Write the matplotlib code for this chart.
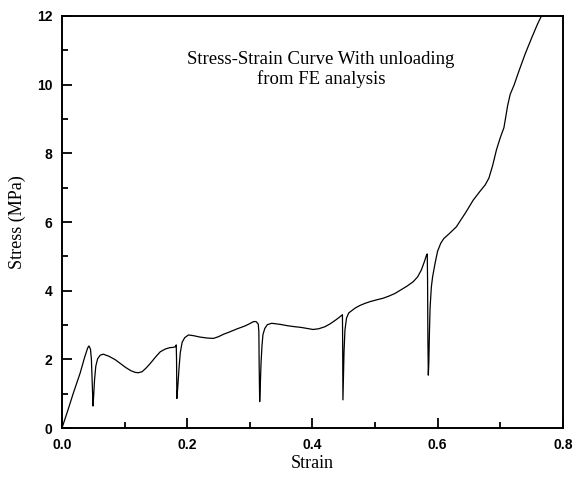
import matplotlib.pyplot as plt
from matplotlib.ticker import MultipleLocator

# strain / stress pairs, including the unloading dips
strain = [0.000, 0.010, 0.018, 0.029, 0.036, 0.041, 0.043, 0.0455, 0.047, 0.048, 0.049, 0.0495,
          0.0505, 0.052, 0.054, 0.057, 0.061, 0.066, 0.075, 0.085, 0.093, 0.102, 0.110, 0.117,
          0.122, 0.128, 0.134, 0.141, 0.150, 0.157, 0.165, 0.172, 0.178, 0.1815, 0.1825, 0.183,
          0.1835, 0.185, 0.187, 0.189, 0.192, 0.196, 0.202, 0.210, 0.220, 0.232, 0.242, 0.250,
          0.258, 0.268, 0.280, 0.292, 0.300, 0.306, 0.310, 0.3135, 0.3145, 0.315, 0.3158,
          0.3165, 0.318, 0.3195, 0.321, 0.324, 0.328, 0.335, 0.348, 0.360, 0.372, 0.382, 0.392,
          0.401, 0.410, 0.420, 0.428, 0.436, 0.442, 0.446, 0.448, 0.4483, 0.4485, 0.4488,
          0.4495, 0.4505, 0.452, 0.4545, 0.458, 0.463, 0.468, 0.476, 0.484, 0.492, 0.502,
          0.513, 0.522, 0.532, 0.541, 0.551, 0.561, 0.568, 0.574, 0.579, 0.582, 0.5835, 0.584,
          0.5845, 0.5852, 0.586, 0.587, 0.588, 0.590, 0.592, 0.596, 0.600, 0.605, 0.610, 0.618,
          0.630, 0.645, 0.657, 0.668, 0.676, 0.682, 0.688, 0.694, 0.700, 0.706, 0.712, 0.716,
          0.722, 0.730, 0.740, 0.750, 0.760, 0.770, 0.780]
stress = [0.00, 0.55, 1.01, 1.60, 2.05, 2.33, 2.39, 2.30, 2.00, 1.50, 0.95, 0.64,
          0.90, 1.40, 1.80, 2.02, 2.12, 2.15, 2.09, 1.99, 1.88, 1.76, 1.67, 1.62,
          1.61, 1.64, 1.74, 1.88, 2.08, 2.22, 2.30, 2.34, 2.35, 2.37, 2.42, 2.00,
          0.86, 1.20, 1.75, 2.20, 2.50, 2.63, 2.71, 2.69, 2.65, 2.62, 2.61, 2.66,
          2.73, 2.80, 2.89, 2.97, 3.04, 3.10, 3.10, 3.03, 2.80, 1.80, 0.77,
          1.10, 1.90, 2.40, 2.72, 2.90, 3.01, 3.05, 3.02, 2.98, 2.95, 2.93, 2.90,
          2.87, 2.89, 2.95, 3.03, 3.13, 3.21, 3.27, 3.30, 2.60, 1.50, 0.82,
          1.40, 2.20, 2.85, 3.20, 3.35, 3.42, 3.49, 3.57, 3.63, 3.68, 3.73,
          3.78, 3.84, 3.92, 4.02, 4.13, 4.26, 4.40, 4.60, 4.85, 5.02, 5.07, 4.30,
          2.60, 1.54, 1.90, 2.80, 3.50, 4.10, 4.40, 4.80, 5.15, 5.38, 5.52, 5.65,
          5.86, 6.28, 6.64, 6.90, 7.08, 7.28, 7.65, 8.10, 8.45, 8.75, 9.40, 9.72,
          9.98, 10.40, 10.90, 11.35, 11.78, 12.15, 12.50]

title_lines = ["Stress-Strain Curve With unloading", "from FE analysis"]

fig = plt.figure(figsize=(5.82, 4.80), dpi=100)
ax = fig.add_axes([0.1065, 0.1083, 0.8605, 0.8584])

ax.plot(strain, stress, color="black", linewidth=0.9)

ax.set_xlim(0, 0.8)
ax.set_ylim(0, 12)
ax.xaxis.set_major_locator(MultipleLocator(0.2))
ax.xaxis.set_minor_locator(MultipleLocator(0.1))
ax.yaxis.set_major_locator(MultipleLocator(2))
ax.yaxis.set_minor_locator(MultipleLocator(1))
ax.xaxis.set_major_formatter(plt.FormatStrFormatter("%.1f"))

ax.tick_params(which="both", direction="in", width=1.3, top=False, right=False)
ax.tick_params(which="major", length=7, pad=7)
ax.tick_params(which="minor", length=4.5)
for lbl in ax.get_xticklabels() + ax.get_yticklabels():
    lbl.set_fontfamily("Liberation Sans")
    lbl.set_fontweight("bold")
    lbl.set_fontsize(10)

for side in ["left", "bottom", "top", "right"]:
    ax.spines[side].set_linewidth(1.4)

ax.set_xlabel("Strain", fontfamily="Liberation Serif", fontsize=13, labelpad=2)
ax.set_ylabel("Stress (MPa)", fontfamily="Liberation Serif", fontsize=13, labelpad=8)

ax.text(0.517, 0.871, "\n".join(title_lines), transform=ax.transAxes, ha="center", va="center",
        fontfamily="Liberation Serif", fontsize=13.5, linespacing=1.15)

fig.savefig("out.png", dpi=100)
